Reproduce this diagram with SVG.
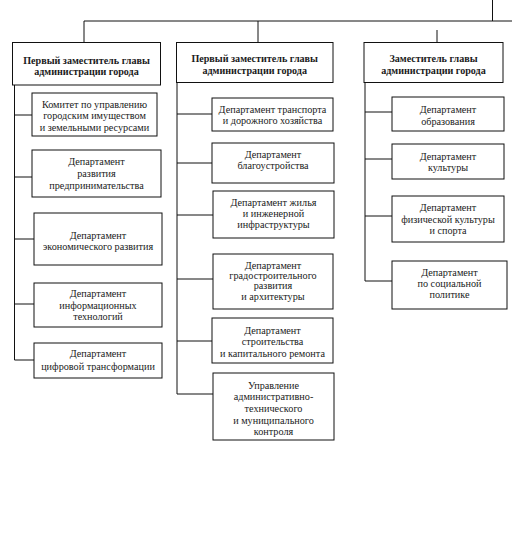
<svg xmlns="http://www.w3.org/2000/svg" width="512" height="536" viewBox="0 0 512 536">
<style>
.bx{fill:#fff;stroke:#111;stroke-width:1}
.ln{fill:none;stroke:#111;stroke-width:1}
text{fill:#1a1a1a;text-anchor:middle;dominant-baseline:central}
.h{font-weight:bold;font-size:10.1px}
.t{font-size:10.2px}
</style>
<rect width="512" height="536" fill="#fff"/>
<g id="connectors">
<path class="ln" d="M492.5 0V21M84 21H512M84 21V42.5M258 21V42.5M437 30V42.5"/>
<path class="ln" d="M14.5 85V360M14.5 115H32M14.5 177H32M14.5 239H34M14.5 304H34M14.5 360H34"/>
<path class="ln" d="M177 82.5V394M177 114H212M177 163H212M177 215H213M177 279H213M177 341H212M177 394H213"/>
<path class="ln" d="M365 82.5V281M365 112H392M365 159H392M365 216H392M365 281H392"/>
</g>
<g font-family="Liberation Serif, DejaVu Serif, serif">
<g id="h1"><rect class="bx" x="12.5" y="42.5" width="148" height="42.5"/><text class="h" x="86.5" y="60">Первый заместитель главы</text><text class="h" x="86.5" y="71">администрации города</text></g>
<g id="h2"><rect class="bx" x="176.5" y="42.5" width="156.5" height="40"/><text class="h" x="254.7" y="58.5">Первый заместитель главы</text><text class="h" x="254.7" y="70.5">администрации города</text></g>
<g id="h3"><rect class="bx" x="364" y="42.5" width="139" height="40"/><text class="h" x="433.5" y="58.5">Заместитель главы</text><text class="h" x="433.5" y="70.5">администрации города</text></g>

<g id="b1"><rect class="bx" x="32" y="93" width="125" height="43"/><text class="t" x="94.5" y="104">Комитет по управлению</text><text class="t" x="94.5" y="115.5">городским имуществом</text><text class="t" x="94.5" y="127">и земельными ресурсами</text></g>
<g id="b2"><rect class="bx" x="32" y="150" width="129" height="47"/><text class="t" x="96.5" y="161">Департамент</text><text class="t" x="96.5" y="173">развития</text><text class="t" x="96.5" y="185">предпринимательства</text></g>
<g id="b3"><rect class="bx" x="34" y="213" width="128" height="52"/><text class="t" x="98" y="235">Департамент</text><text class="t" x="98" y="246.5">экономического развития</text></g>
<g id="b4"><rect class="bx" x="34" y="283" width="128" height="44"/><text class="t" x="98" y="293">Департамент</text><text class="t" x="98" y="305">информационных</text><text class="t" x="98" y="316.5">технологий</text></g>
<g id="b5"><rect class="bx" x="34" y="343" width="128" height="35"/><text class="t" x="98" y="353.5">Департамент</text><text class="t" x="98" y="366.5">цифровой трансформации</text></g>

<g id="c1"><rect class="bx" x="212" y="98" width="121" height="33"/><text class="t" x="272.5" y="109">Департамент транспорта</text><text class="t" x="272.5" y="120.5">и дорожного хозяйства</text></g>
<g id="c2"><rect class="bx" x="212" y="143" width="122" height="40"/><text class="t" x="273" y="154">Департамент</text><text class="t" x="273" y="165">благоустройства</text></g>
<g id="c3"><rect class="bx" x="213" y="191" width="121" height="47"/><text class="t" x="273.5" y="202">Департамент жилья</text><text class="t" x="273.5" y="213.5">и инженерной</text><text class="t" x="273.5" y="224.5">инфраструктуры</text></g>
<g id="c4"><rect class="bx" x="213" y="254" width="120" height="55"/><text class="t" x="273" y="265.5">Департамент</text><text class="t" x="273" y="275.5">градостроительного</text><text class="t" x="273" y="285.5">развития</text><text class="t" x="273" y="296">и архитектуры</text></g>
<g id="c5"><rect class="bx" x="212" y="318" width="121" height="45"/><text class="t" x="272.5" y="330">Департамент</text><text class="t" x="272.5" y="341.5">строительства</text><text class="t" x="272.5" y="353">и капитального ремонта</text></g>
<g id="c6"><rect class="bx" x="213" y="373" width="121" height="67"/><text class="t" x="273.5" y="385">Управление</text><text class="t" x="273.5" y="396.7">административно-</text><text class="t" x="273.5" y="408.3">технического</text><text class="t" x="273.5" y="420">и муниципального</text><text class="t" x="273.5" y="431.7">контроля</text></g>

<g id="d1"><rect class="bx" x="392" y="97" width="112" height="34"/><text class="t" x="448" y="109.5">Департамент</text><text class="t" x="448" y="121.5">образования</text></g>
<g id="d2"><rect class="bx" x="392" y="144" width="112" height="35"/><text class="t" x="448" y="156">Департамент</text><text class="t" x="448" y="167.5">культуры</text></g>
<g id="d3"><rect class="bx" x="392" y="196" width="112" height="46"/><text class="t" x="448" y="207.7">Департамент</text><text class="t" x="448" y="219.3">физической культуры</text><text class="t" x="448" y="230.5">и спорта</text></g>
<g id="d4"><rect class="bx" x="392" y="261" width="115" height="48"/><text class="t" x="449.5" y="272">Департамент</text><text class="t" x="449.5" y="283.5">по социальной</text><text class="t" x="449.5" y="294">политике</text></g>
</g>
</svg>
